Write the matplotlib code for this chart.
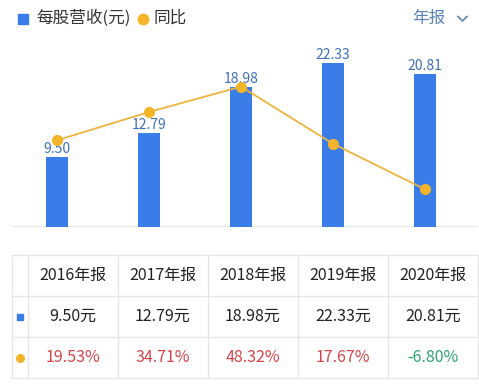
import matplotlib
matplotlib.use("Agg")
import matplotlib.pyplot as plt

plt.rcParams['font.family'] = ['Noto Sans CJK SC', 'DejaVu Sans']

# data
years = ["2016年报", "2017年报", "2018年报", "2019年报", "2020年报"]
revenue = [9.50, 12.79, 18.98, 22.33, 20.81]
yoy = [19.53, 34.71, 48.32, 17.67, -6.80]

BLUE = '#3b7de8'
LABEL_BLUE = '#3f6fb8'
ORANGE = '#f4b42a'
LINE_C = '#ecb43c'
RED = '#d8434b'
GREEN = '#2aa371'
GRID = '#e6e6e6'

W, H = 479, 389
fig = plt.figure(figsize=(W / 100, H / 100), dpi=100)

def px_axes(x0, y0, x1, y1):
    # pixel box (top-left origin) -> figure fraction
    return [x0 / W, 1 - y1 / H, (x1 - x0) / W, (y1 - y0) / H]

# chart area
ax = fig.add_axes(px_axes(12, 50, 478, 227.3))
xs = list(range(len(years)))
ax.bar(xs, revenue, width=0.24, color=BLUE, zorder=2)
for x, v in zip(xs, revenue):
    ax.text(x, v + 0.15, f"{v:.2f}", ha='center', va='bottom',
            color=LABEL_BLUE, fontsize=10, zorder=3)
ax.axhline(0, color=GRID, lw=1.5, zorder=1)
ax.set_xlim(-0.489, 4.576)
ax.set_ylim(0, 24.06)
ax.axis('off')

ax2 = ax.twinx()
ax2.plot(xs, yoy, color=LINE_C, lw=1.3, marker='o', ms=7,
         markerfacecolor=ORANGE, markeredgecolor=ORANGE)
ax2.set_ylim(-27.2, 68.0)
ax2.axis('off')

# overlay for legend and table, in pixels
ov = fig.add_axes([0, 0, 1, 1])
ov.set_xlim(0, W)
ov.set_ylim(H, 0)
ov.axis('off')

# legend
ly = 18.5
ov.plot([23], [ly], marker='s', ms=7.5, color=BLUE, ls='none')
ov.text(36, ly, "每股营收(元)", va='center', ha='left', fontsize=12, color='#333333')
ov.plot([143], [ly], marker='o', ms=7.5, color=ORANGE, ls='none')
ov.text(154, ly, "同比", va='center', ha='left', fontsize=12, color='#333333')
ov.text(412, ly, "年报", va='center', ha='left', fontsize=12, color='#5a84b8')
ov.plot([458, 462.5, 467], [16.5, 21, 16.5], color='#5a84b8', lw=1.2)

# table
col_edges = [12, 28] + [28 + 90 * (i + 1) for i in range(len(years))]
row_edges = [255, 296, 337, 378]
for y in row_edges:
    ov.plot([col_edges[0], col_edges[-1]], [y, y], color=GRID, lw=1)
for x in col_edges:
    ov.plot([x, x], [row_edges[0], row_edges[-1]], color=GRID, lw=1)

centers_y = [(row_edges[i] + row_edges[i + 1]) / 2 for i in range(3)]
ov.plot([20], [centers_y[1]], marker='s', ms=5, color=BLUE, ls='none')
ov.plot([20], [centers_y[2]], marker='o', ms=5.5, color=ORANGE, ls='none')

for i, (yr, rv, g) in enumerate(zip(years, revenue, yoy)):
    cx = (col_edges[i + 1] + col_edges[i + 2]) / 2
    ov.text(cx, centers_y[0], yr, ha='center', va='center', fontsize=11.5, color='#222222')
    ov.text(cx, centers_y[1], f"{rv:.2f}元", ha='center', va='center', fontsize=11.5, color='#222222')
    ov.text(cx, centers_y[2], f"{g:.2f}%", ha='center', va='center', fontsize=11.5,
            color=RED if g >= 0 else GREEN)

fig.savefig("out.png", dpi=100)
